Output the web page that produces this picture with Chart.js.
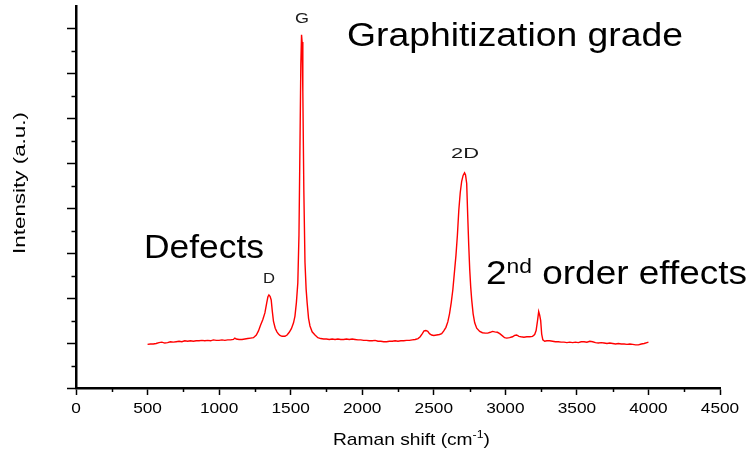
<!DOCTYPE html>
<html><head><meta charset="utf-8">
<script src="https://cdn.jsdelivr.net/npm/chart.js@4.4.0/dist/chart.umd.min.js"></script>
<style>html,body{margin:0;padding:0;background:#fff;}#wrap{position:relative;width:749px;height:452px;}</style>
</head><body><div id="wrap"><canvas id="c" width="749" height="452"></canvas></div>
<script>
// ---- DATA ----
const ramanShift = [500,520,540,560,580,600,620,640,660,680,700,720,740,760,780,800,820,840,860,880,900,920,940,960,980,1000,1020,1040,1060,1080,1100,1110,1120,1140,1160,1180,1200,1220,1240,1260,1275,1290,1305,1320,1333,1341,1348,1356,1364,1372,1380,1392,1404,1415,1425,1440,1460,1475,1490,1505,1520,1530,1540,1550,1558,1565,1571,1576,1580,1585,1592,1600,1608,1615,1625,1635,1650,1670,1690,1710,1730,1750,1770,1790,1810,1830,1850,1870,1890,1910,1930,1950,1970,1990,2010,2030,2050,2070,2090,2110,2130,2150,2170,2190,2210,2230,2250,2270,2290,2310,2330,2350,2370,2390,2405,2420,2432,2445,2458,2470,2485,2500,2520,2540,2555,2570,2585,2598,2610,2622,2633,2645,2655,2665,2675,2685,2695,2705,2715,2722,2730,2737,2744,2751,2758,2765,2775,2786,2800,2821,2840,2860,2877,2895,2910,2926,2945,2961,2980,2995,3010,3030,3050,3065,3079,3095,3110,3130,3150,3170,3190,3205,3215,3225,3233,3240,3247,3254,3262,3275,3290,3310,3330,3350,3370,3390,3410,3430,3450,3470,3490,3510,3530,3550,3570,3590,3610,3630,3650,3670,3690,3710,3730,3750,3770,3790,3810,3830,3850,3870,3890,3910,3930,3950,3970,3990,4000];
const intensity = [0.97,0.98,0.98,0.99,1.01,1.02,1.00,1.01,1.03,1.02,1.03,1.04,1.03,1.05,1.04,1.05,1.04,1.05,1.05,1.06,1.05,1.06,1.05,1.07,1.06,1.06,1.07,1.06,1.07,1.07,1.08,1.11,1.09,1.08,1.08,1.09,1.10,1.11,1.12,1.18,1.27,1.40,1.52,1.67,1.90,2.03,2.07,2.04,1.96,1.70,1.48,1.33,1.25,1.20,1.17,1.15,1.15,1.18,1.24,1.32,1.45,1.60,1.90,2.34,3.40,5.40,7.20,7.86,7.70,6.60,4.40,2.80,2.20,1.90,1.55,1.38,1.25,1.18,1.12,1.10,1.09,1.09,1.08,1.09,1.08,1.09,1.08,1.08,1.09,1.08,1.09,1.08,1.07,1.07,1.06,1.06,1.05,1.05,1.06,1.04,1.04,1.03,1.03,1.04,1.04,1.05,1.04,1.05,1.05,1.06,1.06,1.07,1.08,1.10,1.14,1.21,1.27,1.28,1.26,1.21,1.18,1.17,1.18,1.19,1.21,1.27,1.35,1.47,1.65,1.90,2.18,2.60,2.95,3.40,3.96,4.35,4.60,4.73,4.79,4.74,4.55,3.85,3.20,2.65,2.25,1.96,1.65,1.45,1.33,1.26,1.23,1.22,1.22,1.24,1.26,1.25,1.24,1.21,1.16,1.12,1.11,1.12,1.14,1.17,1.18,1.15,1.14,1.13,1.14,1.14,1.15,1.19,1.28,1.50,1.70,1.62,1.50,1.20,1.07,1.04,1.05,1.05,1.04,1.03,1.03,1.02,1.02,1.01,1.02,1.01,1.02,1.01,1.03,1.03,1.02,1.04,1.03,1.01,1.00,1.01,1.00,0.99,1.00,0.99,0.98,0.99,0.98,0.98,0.97,0.98,0.97,0.96,0.96,0.98,0.99,1.01,1.02];
const xTicks = [0,500,1000,1500,2000,2500,3000,3500,4000,4500];
const xMinorTicks = [250,750,1250,1750,2250,2750,3250,3750,4250];
const yTicks = [0,1,2,3,4,5,6,7,8];
const yMinorTicks = [0.5,1.5,2.5,3.5,4.5,5.5,6.5,7.5];
const xTitle = ['Raman shift (cm', '-1', ')'];
const yTitle = 'Intensity (a.u.)';
const peakLabels = ['D', 'G', '2D'];
const notes = ['Defects', 'Graphitization grade', ['2', 'nd', ' order effects']];

// ---- DRAWING ----
const FONT = "'Liberation Sans', Arial, sans-serif";
function stretched(ctx, text, x, y, size, width, align) {
  ctx.font = size + 'px ' + FONT;
  const w = ctx.measureText(text).width;
  const sx = width ? width / w : 1;
  ctx.save();
  ctx.translate(x, y);
  ctx.scale(sx, 1);
  ctx.textAlign = align || 'center';
  ctx.fillText(text, 0, 0);
  ctx.restore();
}
function rich(ctx, parts, x, y, width) {
  let nat = 0;
  parts.forEach(p => { ctx.font = p.size + 'px ' + FONT; p.w = ctx.measureText(p.t).width; nat += p.w; });
  const sx = width / nat;
  ctx.save();
  ctx.translate(x, y);
  ctx.scale(sx, 1);
  ctx.textAlign = 'left';
  ctx.textBaseline = 'alphabetic';
  let cx = 0;
  parts.forEach(p => { ctx.font = p.size + 'px ' + FONT; ctx.fillText(p.t, cx, -(p.rise || 0)); cx += p.w; });
  ctx.restore();
}
const decor = {
  id: 'decor',
  afterDraw(chart) {
    const ctx = chart.ctx, xs = chart.scales.x, ys = chart.scales.y;
    const ca = chart.chartArea;
    ctx.save();
    ctx.strokeStyle = '#000';
    ctx.lineWidth = 1.5;
    xMinorTicks.forEach(v => {
      const p = Math.round(xs.getPixelForValue(v)) + 0.5;
      ctx.beginPath(); ctx.moveTo(p, ca.bottom); ctx.lineTo(p, ca.bottom + 4); ctx.stroke();
    });
    yMinorTicks.forEach(v => {
      const p = Math.round(ys.getPixelForValue(v)) + 0.5;
      ctx.beginPath(); ctx.moveTo(ca.left, p); ctx.lineTo(ca.left - 4.5, p); ctx.stroke();
    });
    ctx.fillStyle = '#000';
    ctx.textBaseline = 'middle';
    xTicks.forEach(v => stretched(ctx, String(v), xs.getPixelForValue(v), 409, 14, String(v).length * 9.6));
    ctx.textBaseline = 'alphabetic';
    rich(ctx, [{t: xTitle[0], size: 17}, {t: xTitle[1], size: 11, rise: 7}, {t: xTitle[2], size: 17}], 333, 445, 157);
    ctx.save();
    ctx.translate(25, 183);
    ctx.rotate(-Math.PI / 2);
    stretched(ctx, yTitle, 0, 0, 17, 142);
    ctx.restore();
    ctx.fillStyle = '#1a1a1a';
    ctx.textBaseline = 'alphabetic';
    stretched(ctx, peakLabels[0], 269, 283, 15, 12);
    stretched(ctx, peakLabels[1], 302, 23, 15, 14);
    stretched(ctx, peakLabels[2], 465, 158, 15, 28);
    ctx.fillStyle = '#000';
    stretched(ctx, notes[0], 144, 258, 33, 120, 'left');
    stretched(ctx, notes[1], 347, 46, 33, 336, 'left');
    rich(ctx, [{t: notes[2][0], size: 34}, {t: notes[2][1], size: 21, rise: 11}, {t: notes[2][2], size: 34}], 486, 284, 261);
    ctx.restore();
  }
};
new Chart(document.getElementById('c'), {
  type: 'line',
  data: { datasets: [{ data: ramanShift.map((x, i) => ({ x: x, y: intensity[i] })), borderColor: '#ff0000', borderWidth: 1.4, pointRadius: 0, tension: 0, fill: false }] },
  options: {
    responsive: false, animation: false, events: [],
    layout: { padding: { left: 67, right: 29, top: 6, bottom: 57 } },
    plugins: { legend: { display: false }, tooltip: { enabled: false } },
    scales: {
      x: { type: 'linear', min: 0, max: 4500,
        afterBuildTicks: s => { s.ticks = xTicks.map(v => ({ value: v })); },
        ticks: { display: false },
        grid: { drawOnChartArea: false, drawTicks: true, tickLength: 7, tickColor: '#000', tickWidth: 1.5 },
        border: { display: true, color: '#000', width: 2.5 } },
      y: { type: 'linear', min: 0, max: 8.5,
        afterBuildTicks: s => { s.ticks = yTicks.map(v => ({ value: v })); },
        ticks: { display: false },
        grid: { drawOnChartArea: false, drawTicks: true, tickLength: 9, tickColor: '#000', tickWidth: 1.5 },
        border: { display: true, color: '#000', width: 2.5 } }
    }
  },
  plugins: [decor]
});
</script></body></html>
